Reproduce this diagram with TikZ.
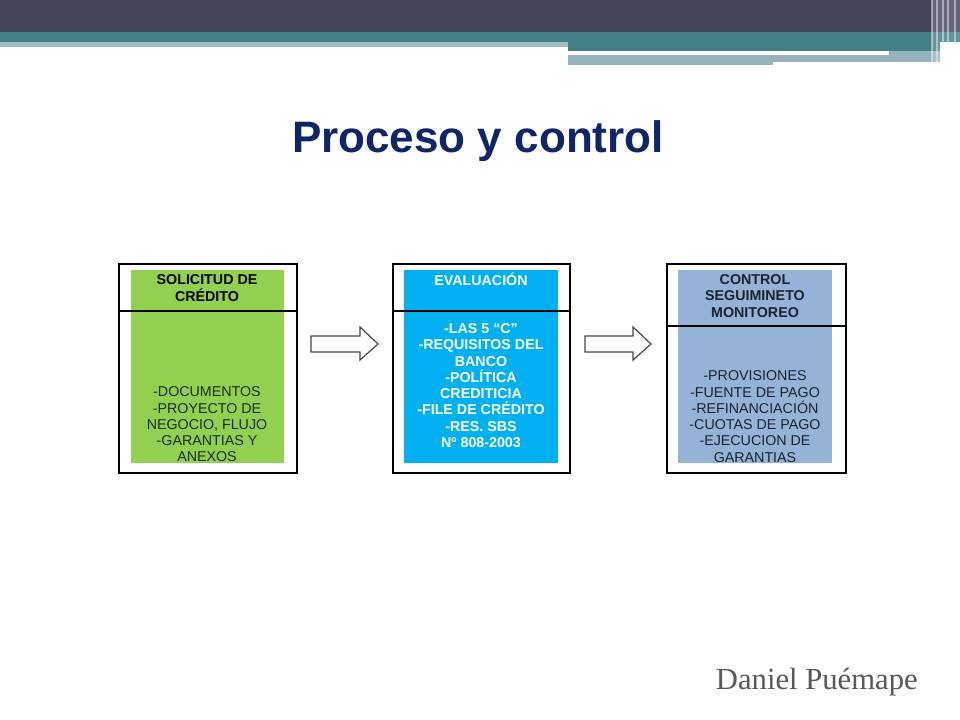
\documentclass[tikz,border=0pt]{standalone}
\usepackage{fontspec}
\setmainfont{Liberation Sans}
\newfontfamily\serifface{Liberation Serif}
\usetikzlibrary{positioning}
\definecolor{hdark}{RGB}{66,68,89}
\definecolor{hteal}{RGB}{67,128,131}
\definecolor{hlight}{RGB}{160,190,196}
\definecolor{hgray}{RGB}{150,178,186}
\definecolor{titleblue}{RGB}{16,36,104}
\definecolor{boxgreen}{RGB}{146,208,80}
\definecolor{boxblue}{RGB}{0,176,240}
\definecolor{boxsteel}{RGB}{149,179,215}
\definecolor{footgray}{RGB}{89,89,89}
\definecolor{arrowgray}{RGB}{70,70,70}
\definecolor{txtgreen}{RGB}{25,45,15}
\definecolor{txtsteel}{RGB}{25,35,50}
\tikzset{
  frame/.style={draw=black, line width=1.3pt},
  fillbox/.style={draw=none},
  divider/.style={draw=black, line width=1.3pt},
  boxtext/.style={align=center, font=\fontsize{10.7pt}{12.2pt}\selectfont, inner sep=0pt},
  boldtext/.style={align=center, font=\fontsize{10.7pt}{12.2pt}\selectfont\bfseries, inner sep=0pt},
  blockarrow/.style={draw=arrowgray, fill=white, line width=0.9pt, line join=miter},
}
\begin{document}
\begin{tikzpicture}[x=0.75pt,y=-0.75pt]
\useasboundingbox (0,0) rectangle (960,720);
\fill[white] (0,0) rectangle (960,720);
% header bands
\fill[hdark] (0,0) rectangle (960,32);
\fill[hteal] (0,32) rectangle (960,42);
\fill[hlight] (0,42) rectangle (568,47);
\fill[hteal] (568,42) rectangle (940,51);
\fill[white] (568,51) rectangle (889,55);
\fill[hgray] (889,51) rectangle (940,55);
\fill[hgray] (568,55) rectangle (773,65);
\fill[hgray] (773,55) rectangle (940,62);
\fill[white, opacity=0.18] (932,0) rectangle (960,65);
\foreach \xx in {932,937,943,948,955}
  \draw[white, opacity=0.45, line width=0.8pt] (\xx,0) -- (\xx,65);
% title
\node[font=\fontsize{33pt}{38pt}\selectfont\bfseries, text=titleblue] (title) at (478,141) {Proceso y control};
% box 1
\node[fillbox, fill=boxgreen, minimum width=153*0.75pt, minimum height=193*0.75pt, anchor=north west, inner sep=0pt] (f1) at (131,270) {};
\node[frame, minimum width=178*0.75pt, minimum height=209*0.75pt, anchor=north west, inner sep=0pt] (b1) at (118,263) {};
\draw[divider] (b1.west |- 0,311) -- (b1.east |- 0,311);
\node[boldtext] (h1) at (207,288) {SOLICITUD DE\\CRÉDITO};
\node[boxtext, text=txtgreen] (t1) at (207,424.5) {-DOCUMENTOS\\-PROYECTO DE\\NEGOCIO, FLUJO\\-GARANTIAS Y\\ANEXOS};
% box 2
\node[fillbox, fill=boxblue, minimum width=154*0.75pt, minimum height=193*0.75pt, anchor=north west, inner sep=0pt] (f2) at (404,270) {};
\node[frame, minimum width=177*0.75pt, minimum height=209*0.75pt, anchor=north west, inner sep=0pt] (b2) at (392,263) {};
\draw[divider] (b2.west |- 0,311) -- (b2.east |- 0,311);
\node[boldtext, text=white] (h2) at (481,279) {EVALUACIÓN};
\node[boldtext, text=white] (t2) at (481,385.5) {-LAS 5 “C”\\-REQUISITOS DEL\\BANCO\\-POLÍTICA\\CREDITICIA\\-FILE DE CRÉDITO\\-RES. SBS\\Nº 808-2003};
% box 3
\node[fillbox, fill=boxsteel, minimum width=154*0.75pt, minimum height=193*0.75pt, anchor=north west, inner sep=0pt] (f3) at (678,270) {};
\node[frame, minimum width=179*0.75pt, minimum height=209*0.75pt, anchor=north west, inner sep=0pt] (b3) at (666,263) {};
\draw[divider] (b3.west |- 0,326) -- (b3.east |- 0,326);
\node[boldtext, text=txtsteel] (h3) at (755,296) {CONTROL\\SEGUIMINETO\\MONITOREO};
\node[boxtext, text=txtsteel] (t3) at (755,416.5) {-PROVISIONES\\-FUENTE DE PAGO\\-REFINANCIACIÓN\\-CUOTAS DE PAGO\\-EJECUCION DE\\GARANTIAS};
% block arrows
\draw[blockarrow] (311,336) -- (360,336) -- (360,327) -- (378,344) -- (360,360) -- (360,352) -- (311,352) -- cycle;
\draw[blockarrow] (585,336) -- (633,336) -- (633,327) -- (651,344) -- (633,360) -- (633,352) -- (585,352) -- cycle;
% footer
\node[font=\serifface\fontsize{23pt}{26pt}\selectfont, text=footgray, anchor=base east, inner sep=0pt] (foot) at (918,689) {Daniel Puémape};
\end{tikzpicture}
\end{document}
